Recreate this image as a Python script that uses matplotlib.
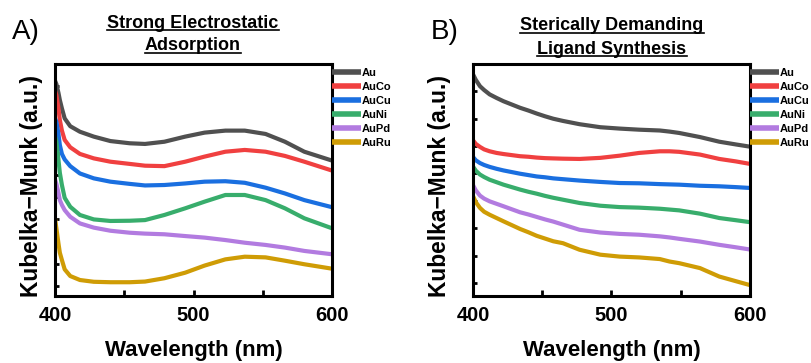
import numpy as np
import matplotlib
matplotlib.use('Agg')
import matplotlib.pyplot as plt
from matplotlib.lines import Line2D

plt.rcParams['font.family'] = ['Liberation Sans', 'DejaVu Sans']

names = ['Au', 'AuCo', 'AuCu', 'AuNi', 'AuPd', 'AuRu']
colors = ['#505050', '#f04040', '#1a6fe0', '#38ad6c', '#b27be0', '#cf9c05']

# Panel A - Strong Electrostatic Adsorption
wl_a = [400, 401, 402.5, 403.5, 405, 407, 411, 418, 428, 440, 454, 465, 479,
        494, 508, 523, 537, 552, 566, 580, 600]
sea_au = [9.25, 9.1, 8.7, 8.38, 8.0, 7.55, 7.2, 6.95, 6.73, 6.53, 6.43, 6.4, 6.5,
          6.73, 6.91, 7.0, 7.0, 6.85, 6.5, 6.05, 5.65]
sea_auco = [8.8, 8.6, 8.0, 7.48, 7.0, 6.58, 6.25, 5.95, 5.75, 5.6, 5.5, 5.42, 5.4,
            5.6, 5.83, 6.05, 6.13, 6.05, 5.86, 5.6, 5.2]
sea_aucu = [7.55, 7.4, 6.85, 6.35, 5.95, 5.7, 5.4, 5.07, 4.85, 4.7, 4.6, 4.53, 4.55,
            4.62, 4.7, 4.72, 4.65, 4.43, 4.17, 3.87, 3.55]
sea_auni = [6.75, 6.5, 5.68, 5.1, 4.55, 3.97, 3.57, 3.2, 3.0, 2.93, 2.94, 2.97, 3.2,
            3.5, 3.8, 4.1, 4.1, 3.87, 3.5, 3.05, 2.6]
sea_aupd = [4.8, 4.6, 4.2, 3.87, 3.65, 3.42, 3.12, 2.82, 2.63, 2.49, 2.4, 2.36, 2.33,
            2.25, 2.18, 2.07, 1.95, 1.85, 1.73, 1.58, 1.43]
sea_auru = [3.05, 2.6, 1.92, 1.5, 1.17, 0.75, 0.45, 0.27, 0.19, 0.17, 0.17, 0.2, 0.35,
            0.6, 0.92, 1.2, 1.32, 1.29, 1.14, 0.98, 0.78]

# Panel B - Sterically Demanding Ligand Synthesis
wl_b = [400, 402, 405, 408, 412, 417, 422, 428, 434, 440, 446, 452, 458, 465, 477,
        492, 506, 520, 535, 542, 549, 564, 578, 590, 600]
sdl_au = [7.62, 7.42, 7.19, 7.05, 6.89, 6.76, 6.64, 6.52, 6.4, 6.3, 6.19, 6.09, 6.0,
          5.92, 5.8, 5.69, 5.64, 5.6, 5.57, 5.53, 5.48, 5.33, 5.16, 5.06, 4.98]
sdl_auco = [5.21, 5.08, 4.97, 4.88, 4.81, 4.75, 4.71, 4.67, 4.63, 4.61, 4.58, 4.56, 4.55,
            4.54, 4.53, 4.57, 4.65, 4.75, 4.81, 4.81, 4.79, 4.69, 4.53, 4.44, 4.35]
sdl_aucu = [4.6, 4.48, 4.38, 4.31, 4.24, 4.17, 4.11, 4.05, 3.99, 3.94, 3.89, 3.86, 3.82,
            3.79, 3.74, 3.69, 3.65, 3.64, 3.61, 3.6, 3.59, 3.55, 3.53, 3.5, 3.47]
sdl_auni = [4.25, 4.1, 3.96, 3.87, 3.77, 3.68, 3.59, 3.5, 3.41, 3.33, 3.26, 3.18, 3.11,
            3.04, 2.92, 2.82, 2.77, 2.75, 2.71, 2.68, 2.65, 2.53, 2.37, 2.29, 2.22]
sdl_aupd = [3.57, 3.38, 3.19, 3.08, 2.98, 2.89, 2.8, 2.69, 2.58, 2.5, 2.41, 2.32, 2.24,
            2.13, 1.94, 1.84, 1.79, 1.76, 1.7, 1.66, 1.61, 1.51, 1.39, 1.3, 1.22]
sdl_auru = [3.17, 2.95, 2.74, 2.6, 2.49, 2.37, 2.25, 2.11, 1.97, 1.85, 1.72, 1.62, 1.52,
            1.45, 1.21, 1.03, 0.96, 0.93, 0.87, 0.78, 0.72, 0.54, 0.23, 0.06, -0.08]

fig = plt.figure(figsize=(8.11, 3.63), dpi=100)
ax_a = fig.add_axes([0.0678, 0.1846, 0.3416, 0.639])
ax_b = fig.add_axes([0.5833, 0.1846, 0.3412, 0.639])

panels = [
    (ax_a, wl_a, [sea_au, sea_auco, sea_aucu, sea_auni, sea_aupd, sea_auru], (-0.45, 10.0), 10, -0.045),
    (ax_b, wl_b, [sdl_au, sdl_auco, sdl_aucu, sdl_auni, sdl_aupd, sdl_auru], (-0.48, 8.0), 8, -0.078),
]

for ax, wl, series, ylim, ntick, ylab_x in panels:
    for name, col, y in zip(names, colors, series):
        ax.plot(wl, y, color=col, lw=3, label=name, solid_capstyle='butt',
                solid_joinstyle='round')
    ax.set_xlim(400, 600)
    ax.set_ylim(*ylim)
    ax.set_xticks([400, 500, 600])
    ax.set_xticks([450, 550], minor=True)
    ax.set_yticks(range(ntick + 1))
    ax.set_yticklabels([])
    ax.tick_params(axis='both', which='both', direction='in', width=2, length=4,
                   labelsize=14.5, pad=7)
    ax.tick_params(axis='y', length=3)
    for lab in ax.get_xticklabels():
        lab.set_fontweight('bold')
    for sp in ax.spines.values():
        sp.set_linewidth(2.2)
    ax.set_xlabel('Wavelength (nm)', fontsize=16, fontweight='bold', labelpad=11)
    ax.set_ylabel('Kubelka\u2212Munk (a.u.)', fontsize=16.4, fontweight='bold')
    ax.yaxis.set_label_coords(ylab_x, 0.474)
    leg = ax.legend(loc='upper left', bbox_to_anchor=(1.0, 0.985), frameon=False,
                    borderaxespad=0, borderpad=0, handlelength=2.6, handletextpad=0.1,
                    labelspacing=0.37, prop={'size': 8, 'weight': 'bold'})
    for h in leg.get_lines():
        h.set_linewidth(4)

# panel letters
fig.text(12 / 811, 1 - 32 / 363, 'A)', fontsize=20, ha='left', va='center')
fig.text(431 / 811, 1 - 32 / 363, 'B)', fontsize=20, ha='left', va='center')

# underlined titles
titles = [
    ('Strong Electrostatic', 193, 23),
    ('Adsorption', 193, 46),
    ('Sterically Demanding', 612, 26),
    ('Ligand Synthesis', 612, 49),
]
title_texts = []
for s, xp, yp in titles:
    t = fig.text(xp / 811, 1 - yp / 363, s, fontsize=13, fontweight='bold',
                 ha='center', va='center')
    title_texts.append(t)

fig.canvas.draw()
r = fig.canvas.get_renderer()
for t in title_texts:
    bb = t.get_window_extent(r)
    yl = bb.y0 + 1.5
    fig.add_artist(Line2D([bb.x0 / 811, bb.x1 / 811], [yl / 363, yl / 363],
                          transform=fig.transFigure, color='black', lw=1.2))

fig.savefig('out.png', dpi=100)
